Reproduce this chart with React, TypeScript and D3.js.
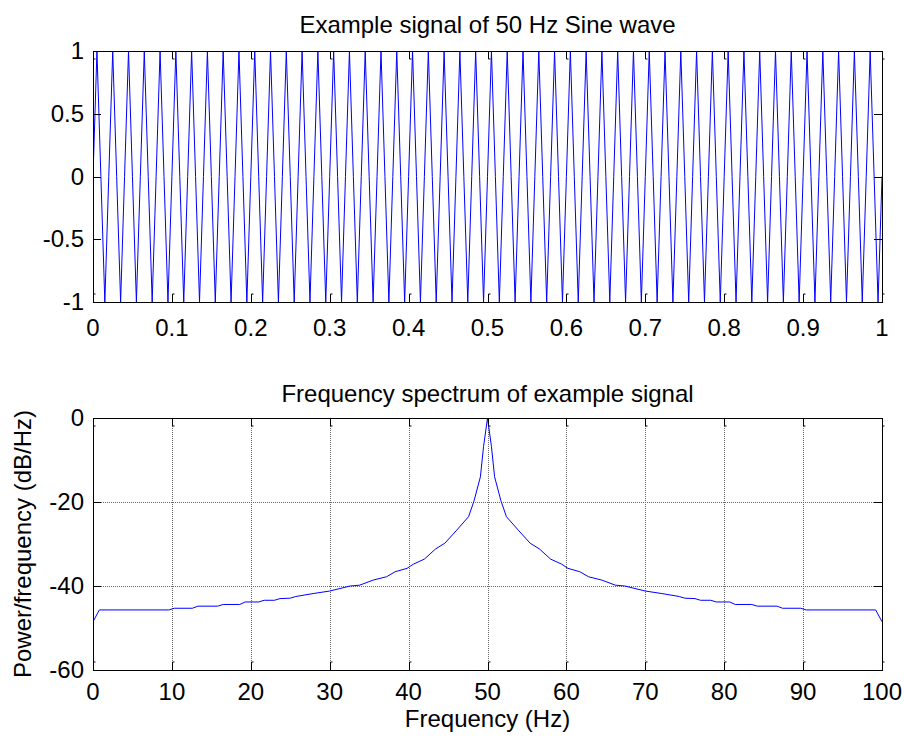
import React from "react";
import * as d3 from "d3";

// ---- Top plot: sampled 50 Hz sine (fs = 200 Hz, t = 0..1 s) ----
const sampleRate = 200;
const signal = [
  0, 1, 0, -1, 0, 1, 0, -1, 0, 1, 0, -1, 0, 1, 0, -1, 0, 1, 0, -1,
  0, 1, 0, -1, 0, 1, 0, -1, 0, 1, 0, -1, 0, 1, 0, -1, 0, 1, 0, -1,
  0, 1, 0, -1, 0, 1, 0, -1, 0, 1, 0, -1, 0, 1, 0, -1, 0, 1, 0, -1,
  0, 1, 0, -1, 0, 1, 0, -1, 0, 1, 0, -1, 0, 1, 0, -1, 0, 1, 0, -1,
  0, 1, 0, -1, 0, 1, 0, -1, 0, 1, 0, -1, 0, 1, 0, -1, 0, 1, 0, -1,
  0, 1, 0, -1, 0, 1, 0, -1, 0, 1, 0, -1, 0, 1, 0, -1, 0, 1, 0, -1,
  0, 1, 0, -1, 0, 1, 0, -1, 0, 1, 0, -1, 0, 1, 0, -1, 0, 1, 0, -1,
  0, 1, 0, -1, 0, 1, 0, -1, 0, 1, 0, -1, 0, 1, 0, -1, 0, 1, 0, -1,
  0, 1, 0, -1, 0, 1, 0, -1, 0, 1, 0, -1, 0, 1, 0, -1, 0, 1, 0, -1,
  0, 1, 0, -1, 0, 1, 0, -1, 0, 1, 0, -1, 0, 1, 0, -1, 0, 1, 0, -1,
  0,
];
const timeTicks = [0, 0.1, 0.2, 0.3, 0.4, 0.5, 0.6, 0.7, 0.8, 0.9, 1];
const timeTickLabels = ["0", "0.1", "0.2", "0.3", "0.4", "0.5", "0.6", "0.7", "0.8", "0.9", "1"];
const ampTicks = [-1, -0.5, 0, 0.5, 1];
const ampTickLabels = ["-1", "-0.5", "0", "0.5", "1"];

// ---- Bottom plot: power spectral density ----
const freqHz = [
  0, 0.8, 9.6, 10.3, 12.6, 13.3, 15.8, 16.5, 18.6, 19.3, 21.0, 21.7, 23.0, 23.7,
  25.0, 25.7, 27.9, 30.0, 32.6, 33.8, 35.5, 37.2, 38.3, 39.8, 40.6, 42.0, 43.4,
  44.6, 46.1, 47.6, 48.3, 49.1, 49.5, 50,
  50.5, 50.9, 51.7, 52.4, 53.9, 55.4, 56.6, 58.0, 59.4, 60.2, 61.7, 62.8, 64.5,
  66.2, 67.4, 70.0, 72.1, 74.3, 75.0, 76.3, 77.0, 78.3, 79.0, 80.7, 81.4, 83.5,
  84.2, 86.7, 87.4, 89.7, 90.4, 99.2, 100,
];
const psdDb = [
  -48.5, -45.7, -45.7, -45.3, -45.3, -44.8, -44.8, -44.4, -44.4, -43.8, -43.8,
  -43.4, -43.4, -43.0, -42.9, -42.5, -41.8, -41.2, -40.0, -39.8, -38.6, -37.8,
  -36.6, -35.8, -34.8, -33.6, -31.2, -29.8, -26.7, -23.5, -19.7, -14.0, -6.8, 0,
  -6.8, -14.0, -19.7, -23.5, -26.7, -29.8, -31.2, -33.6, -34.8, -35.8, -36.6,
  -37.8, -38.6, -39.8, -40.0, -41.2, -41.8, -42.5, -42.9, -43.0, -43.4, -43.4,
  -43.8, -43.8, -44.4, -44.4, -44.8, -44.8, -45.3, -45.3, -45.7, -45.7, -48.5,
];
const freqTicks = [0, 10, 20, 30, 40, 50, 60, 70, 80, 90, 100];
const dbTicks = [-60, -40, -20, 0];

const FONT = "'Liberation Sans', Arial, Helvetica, sans-serif";
const FS = 24;

export default function App() {
  const W = 904, H = 738;
  const left = 93, right = 882;
  const top1 = 51, bottom1 = 302;
  const top2 = 418, bottom2 = 670;
  const tickLen = 8;

  const x1 = d3.scaleLinear().domain([0, 1]).range([left, right]);
  const y1 = d3.scaleLinear().domain([-1, 1]).range([bottom1, top1]);
  const x2 = d3.scaleLinear().domain([0, 100]).range([left, right]);
  const y2 = d3.scaleLinear().domain([-60, 0]).range([bottom2, top2]);

  const sigLine = d3
    .line<number>()
    .x((_, i) => x1(i / sampleRate))
    .y((d) => y1(d))(signal) as string;

  const psdPts = freqHz.map((f, i) => [f, psdDb[i]] as [number, number]);
  const psdLine = d3
    .line<[number, number]>()
    .x((d) => x2(d[0]))
    .y((d) => y2(d[1]))(psdPts) as string;

  const xTicksFor = (xs: number[], sx: (v: number) => number, top: number, bottom: number) =>
    xs.map((v, i) => {
      const x = Math.round(sx(v)) + 0.5;
      return (
        <g key={"xt" + i} stroke="#000" strokeWidth={1} fill="none">
          <path d={`M${x},${bottom} V${bottom - tickLen} h2`} />
          <path d={`M${x},${top} V${top + tickLen} h2`} />
        </g>
      );
    });
  const yTicksFor = (ys: number[], sy: (v: number) => number) =>
    ys.map((v, i) => {
      const y = Math.round(sy(v)) + 0.5;
      return (
        <g key={"yt" + i} stroke="#000" strokeWidth={1}>
          <line x1={left} x2={left + tickLen} y1={y} y2={y} />
          <line x1={right} x2={right - tickLen} y1={y} y2={y} />
        </g>
      );
    });

  return (
    <svg
      width={W}
      height={H}
      style={{ position: "absolute", left: 0, top: 0, background: "#fff" }}
      fontFamily={FONT}
    >
      <rect x={0} y={0} width={W} height={H} fill="#fff" />

      {/* ---------- Top plot ---------- */}
      <text x={(left + right) / 2} y={33} textAnchor="middle" fontSize={FS} fill="#000">
        Example signal of 50 Hz Sine wave
      </text>
      <defs>
        <clipPath id="clip1">
          <rect x={left} y={top1 - 1} width={right - left} height={bottom1 - top1 + 2} />
        </clipPath>
        <clipPath id="clip2">
          <rect x={left} y={top2 - 1} width={right - left} height={bottom2 - top2 + 2} />
        </clipPath>
      </defs>
      <path d={sigLine} fill="none" stroke="#0000ff" strokeWidth={1} clipPath="url(#clip1)" />
      <rect
        x={left + 0.5}
        y={top1 + 0.5}
        width={right - left}
        height={bottom1 - top1}
        fill="none"
        stroke="#000"
        strokeWidth={1}
      />
      {xTicksFor(timeTicks, x1, top1, bottom1)}
      {yTicksFor(ampTicks, y1)}
      {timeTicks.map((v, i) => (
        <text key={"tl" + i} x={x1(v)} y={336} textAnchor="middle" fontSize={FS} fill="#000">
          {timeTickLabels[i]}
        </text>
      ))}
      {ampTicks.map((v, i) => (
        <text key={"al" + i} x={84} y={y1(v) + 8} textAnchor="end" fontSize={FS} fill="#000">
          {ampTickLabels[i]}
        </text>
      ))}

      {/* ---------- Bottom plot ---------- */}
      <text x={(left + right) / 2} y={402} textAnchor="middle" fontSize={FS} fill="#000">
        Frequency spectrum of example signal
      </text>
      {/* grid */}
      <g stroke="#444" strokeWidth={1} strokeDasharray="1,1" opacity={0.8}>
        {freqTicks.slice(1, -1).map((v, i) => (
          <line key={"gx" + i} x1={Math.round(x2(v)) + 0.5} x2={Math.round(x2(v)) + 0.5} y1={top2} y2={bottom2} />
        ))}
        {dbTicks.slice(1, -1).map((v, i) => (
          <line key={"gy" + i} x1={left} x2={right} y1={Math.round(y2(v)) + 0.5} y2={Math.round(y2(v)) + 0.5} />
        ))}
      </g>
      <path d={psdLine} fill="none" stroke="#0000ff" strokeWidth={1} clipPath="url(#clip2)" />
      <rect
        x={left + 0.5}
        y={top2 + 0.5}
        width={right - left}
        height={bottom2 - top2}
        fill="none"
        stroke="#000"
        strokeWidth={1}
      />
      {xTicksFor(freqTicks, x2, top2, bottom2)}
      {yTicksFor(dbTicks, y2)}
      {freqTicks.map((v, i) => (
        <text key={"fl" + i} x={x2(v)} y={700} textAnchor="middle" fontSize={FS} fill="#000">
          {String(v)}
        </text>
      ))}
      {dbTicks.map((v, i) => (
        <text key={"dl" + i} x={84} y={y2(v) + 8} textAnchor="end" fontSize={FS} fill="#000">
          {String(v)}
        </text>
      ))}
      <text x={(left + right) / 2} y={727} textAnchor="middle" fontSize={FS} fill="#000">
        Frequency (Hz)
      </text>
      <text
        transform={`translate(31,${(top2 + bottom2) / 2}) rotate(-90)`}
        textAnchor="middle"
        fontSize={FS}
        fill="#000"
      >
        Power/frequency (dB/Hz)
      </text>
    </svg>
  );
}
